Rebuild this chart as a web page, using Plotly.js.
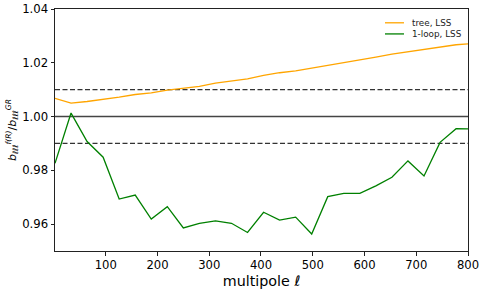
<!DOCTYPE html>
<html>
<head>
<meta charset="utf-8">
<script src="https://cdn.plot.ly/plotly-3.0.1.min.js"></script>
<style>html,body{margin:0;padding:0;background:#fff;}#chart{width:485px;height:292px;}</style>
</head>
<body>
<div id="chart"></div>
<script>
const ell = [2, 33, 64, 95, 126, 157, 188, 219, 250, 281, 312, 343, 374, 405, 436, 467, 498, 529, 560, 591, 622, 653, 684, 715, 746, 777, 800];
const treeLSS = [1.0068, 1.0050, 1.0056, 1.0063, 1.0072, 1.0082, 1.0088, 1.0098, 1.0104, 1.0112, 1.0124, 1.0132, 1.0140, 1.0153, 1.0163, 1.0170, 1.0180, 1.0191, 1.0200, 1.0209, 1.0221, 1.0232, 1.0241, 1.0251, 1.0260, 1.0267, 1.0270];
const loopLSS = [0.9826, 1.0013, 0.9907, 0.9849, 0.9693, 0.9708, 0.9619, 0.9665, 0.9586, 0.9603, 0.9612, 0.9603, 0.9569, 0.9644, 0.9615, 0.9626, 0.9563, 0.9702, 0.9714, 0.9714, 0.9742, 0.9774, 0.9835, 0.9779, 0.9904, 0.9955, 0.9954];
const seriesNames = ['tree, LSS', '1-loop, LSS'];
const seriesColors = ['#FFA500', '#008000'];
const refLines = [{y: 1.00, dash: 'solid', color: '#444444', width: 1.6}, {y: 1.01, dash: '5px,2.5px', color: '#333333', width: 1.3}, {y: 0.99, dash: '5px,2.5px', color: '#333333', width: 1.3}];
const xTicks = [100, 200, 300, 400, 500, 600, 700, 800];
const yTicks = [0.96, 0.98, 1.00, 1.02, 1.04];

const seriesY = [treeLSS, loopLSS];
const traces = seriesY.map((ys, i) => ({x: ell, y: ys, type: 'scatter', mode: 'lines', name: seriesNames[i], line: {color: seriesColors[i], width: 1.3}}));

const shapes = refLines.map(r => ({type: 'line', xref: 'paper', x0: 0, x1: 1, yref: 'y', y0: r.y, y1: r.y, line: {color: r.color, width: r.width, dash: r.dash}, layer: 'below'}));
// manual legend (matplotlib style, compact)
const legY = [0.943, 0.897];
const annotations = [];
seriesNames.forEach((n, i) => {
  shapes.push({type: 'line', xref: 'paper', yref: 'paper', x0: 0.799, x1: 0.845, y0: legY[i], y1: legY[i], line: {color: seriesColors[i], width: 1.3}});
  annotations.push({xref: 'paper', yref: 'paper', x: 0.859, y: legY[i], xanchor: 'left', yanchor: 'middle', text: n, showarrow: false, font: {size: 8.8, color: '#222'}});
});

const layout = {
  width: 485, height: 292,
  margin: {l: 55, r: 17, t: 9, b: 41},
  paper_bgcolor: '#fff', plot_bgcolor: '#fff',
  font: {family: 'DejaVu Sans', color: '#000', size: 11},
  showlegend: false,
  shapes: shapes,
  annotations: annotations,
  xaxis: {
    range: [2, 800], tickvals: xTicks, ticktext: xTicks.map(String),
    showgrid: false, zeroline: false, showline: true, mirror: true, linecolor: '#222', linewidth: 1,
    ticks: 'outside', ticklen: 3.5, tickcolor: '#222', tickfont: {size: 11.6},
    title: {text: 'multipole <i>ℓ</i>', font: {size: 14.3}, standoff: 4}
  },
  yaxis: {
    range: [0.95, 1.04], tickvals: yTicks, ticktext: yTicks.map(v => v.toFixed(2)),
    showgrid: false, zeroline: false, showline: true, mirror: true, linecolor: '#222', linewidth: 1,
    ticks: 'outside', ticklen: 3.5, tickcolor: '#222', tickfont: {size: 11.7},
    title: {text: '<i>b</i><sub><i>ℓℓℓ</i></sub><sup><i>f(R)</i></sup>/<i>b</i><sub><i>ℓℓℓ</i></sub><sup><i>GR</i></sup>', font: {size: 11}, standoff: 3}
  }
};
Plotly.newPlot('chart', traces, layout, {displayModeBar: false, staticPlot: true});
</script>
</body>
</html>
